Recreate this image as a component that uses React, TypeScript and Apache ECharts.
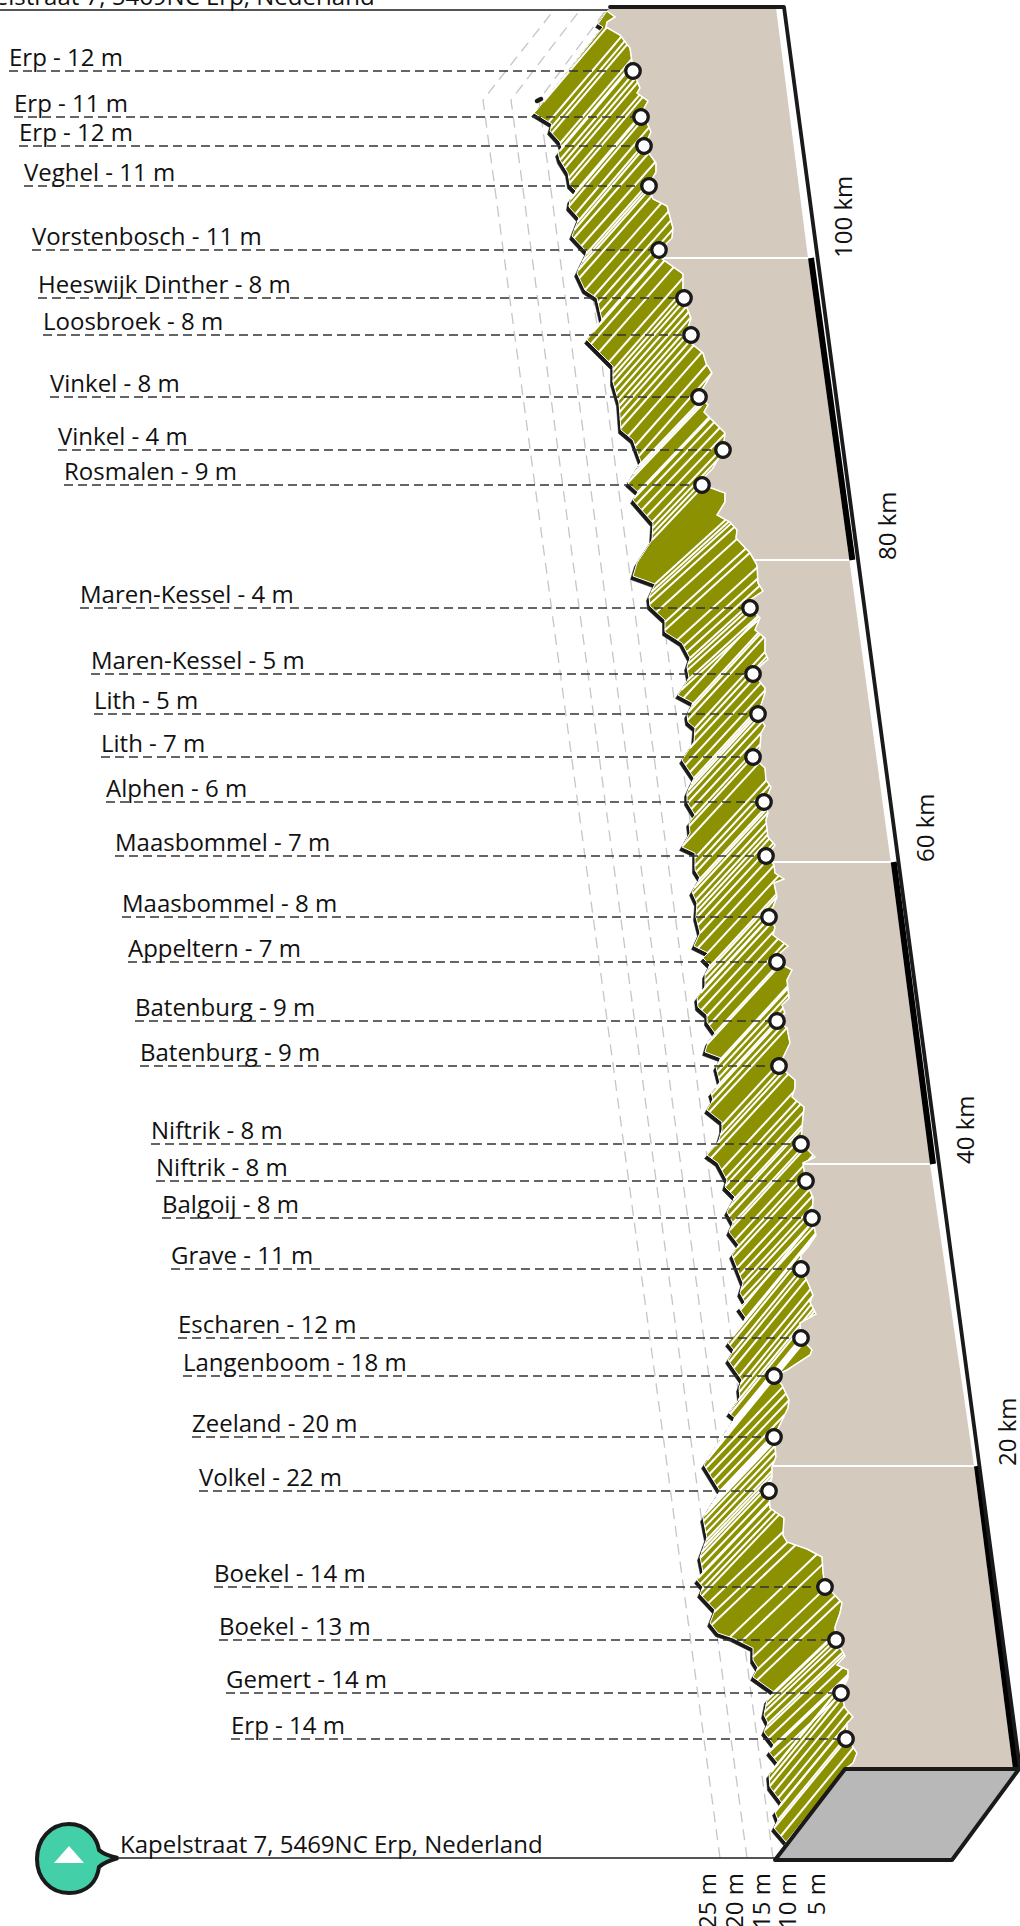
import React, { useEffect, useRef } from "react";
import * as echarts from "echarts";

// Vertical axis: "along" = distance along the route in chart units; 15.1 units make one km.
const UNITS_PER_KM = 15.1;
const kmMarks = [20, 40, 60, 80, 100];
const kmLabelX = [1006, 964, 924, 886, 842];
const blackBandStartKm = [0, 40, 80];

const placeNames = ["Erp","Erp","Erp","Veghel","Vorstenbosch","Heeswijk Dinther","Loosbroek","Vinkel","Vinkel","Rosmalen","Maren-Kessel","Maren-Kessel","Lith","Lith","Alphen","Maasbommel","Maasbommel","Appeltern","Batenburg","Batenburg","Niftrik","Niftrik","Balgoij","Grave","Escharen","Langenboom","Zeeland","Volkel","Boekel","Boekel","Gemert","Erp"];
const placeElevation = [12,11,12,11,11,8,8,8,4,9,4,5,5,7,6,7,8,7,9,9,8,8,8,11,12,18,20,22,14,13,14,14];
const placeAlong = [1697,1651,1622,1582,1518,1470,1433,1371,1318,1283,1160,1094,1054,1011,966,912,851,806,747,702,624,587,550,499,430,392,331,277,181,128,75,29];
const placeDotX = [633,641,644,649,659,684,691,699,723,702,750,753,758,753,764,766,769,777,777,779,801,806,812,801,801,774,774,769,825,836,841,846];
const placeLabelX = [9,14,19,24,32,38,43,50,58,64,80,91,94,101,106,115,122,128,135,140,151,156,162,171,178,183,192,199,214,219,226,231];

const leftEdgeX = [607,598,603,537,534,552,550,560,562,558,560,568,570,576,570,569,579,572,587,577,585,597,602,587,603,613,613,619,621,633,641,628,638,633,653,652,637,633,655,649,650,665,665,682,690,687,689,678,693,687,688,695,694,682,694,687,687,695,689,690,682,695,695,700,692,697,696,700,694,708,703,710,705,705,697,698,707,707,715,708,705,721,716,720,711,713,707,722,722,718,707,718,727,725,735,727,733,729,739,732,743,740,745,739,746,728,734,728,742,739,740,729,735,729,704,720,703,707,700,703,697,703,700,715,710,718,733,753,753,758,753,774,767,764,768,764,774,769,778,769,770,782,775,778,774,786];
const leftEdgeAlong = [1757,1744,1741,1658,1655,1644,1637,1626,1620,1615,1608,1595,1583,1577,1568,1561,1550,1532,1516,1495,1478,1470,1448,1428,1412,1402,1386,1365,1338,1328,1306,1285,1276,1268,1245,1228,1205,1192,1184,1171,1162,1148,1136,1125,1110,1101,1090,1073,1065,1053,1046,1040,1026,1008,990,975,966,953,945,935,921,915,898,890,876,865,851,835,822,815,810,803,793,781,770,761,753,746,735,726,716,710,701,685,675,668,658,646,638,625,613,605,588,581,571,556,545,536,523,513,485,475,466,460,450,425,418,408,388,380,370,355,350,341,303,277,250,230,211,196,188,181,174,158,145,135,130,120,108,100,91,76,68,53,45,36,23,16,5,-7,-19,-35,-44,-52,-60,-74];

const rightEdgeX = [607,615,607,606,620,630,632,633,640,637,648,643,648,651,645,648,656,656,648,653,667,673,672,660,661,683,683,691,688,691,703,706,712,703,699,708,704,725,723,713,703,703,725,725,717,730,737,736,750,757,758,763,750,750,760,755,765,765,768,753,765,765,758,765,761,760,753,765,766,771,765,768,766,768,775,767,774,775,784,774,777,769,775,773,788,780,777,792,787,789,782,785,777,787,790,779,795,795,792,804,802,801,815,803,804,806,813,812,816,808,801,801,808,813,810,816,800,801,812,810,787,774,782,789,788,774,776,772,772,769,770,784,783,787,807,822,823,825,833,842,840,835,836,845,837,848,848,841,845,853,847,847,857,853,845];
const rightEdgeAlong = [1757,1751,1746,1741,1733,1720,1706,1697,1680,1675,1667,1658,1643,1636,1623,1616,1605,1596,1582,1569,1562,1540,1530,1518,1510,1494,1470,1450,1440,1425,1415,1405,1395,1380,1371,1363,1356,1335,1318,1300,1290,1283,1275,1266,1253,1246,1238,1230,1215,1203,1185,1177,1168,1160,1150,1138,1130,1116,1109,1095,1080,1075,1054,1042,1035,1020,1011,1000,988,981,966,955,948,931,923,912,903,895,889,885,871,851,841,833,822,815,806,798,788,770,763,755,747,740,725,702,688,680,671,661,641,625,611,605,598,587,570,550,533,521,513,499,485,473,466,454,445,430,418,413,398,392,383,368,360,331,311,301,291,277,260,250,233,226,219,211,196,181,175,165,155,141,128,112,103,98,90,75,60,51,45,30,15,5,-1];

// White cuts through the ridge: where each one leaves the left edge, grouped by run (sideways per upward unit).
const stripeRuns = [0.85, 0.88, 0.95, 1.1, 0.92, 0.92, 0.82, 0.95, 1.05, 0.82];
const stripesA = [1655,1646,1640,1635,1625,1621,1617,1608,1604,1600,1590,1585,1577,1569,1562,1554,1546,1538];
const stripesB = [1530,1522,1514,1506,1498,1490,1478,1472,1465,1456,1448,1436,1424,1416,1406,1398,1392,1386,1380,1374,1368,1362,1356,1348,1340,1332,1322,1312];
const stripesC = [1302,1294,1286,1276,1270,1264,1258,1252,1246,1240,1234,1228];
const stripesD = [1184,1176,1170,1164,1156,1146,1138,1128,1122,1116,1110,1104,1098,1088,1078];
const stripesE = [1070,1063,1056,1048,1040,1033,1020,1003,996,990,984,978,972,965,959,953,942,922,910,902,896,888,880,874,868,862,856,850,843,835,820,810,800,793,787,781,775];
const stripesF = [765,758,752,743,735,724,708,702,696,690,680,673,666,656,643,633,622,610,598,590,582,576,568,560,552,545,538,528,520,510,500,493,486,478,470,463];
const stripesG = [458,448,440,432,423,416,406,400,392,384,376,368,354,348,338,328,321,315,308];
const stripesH = [300,294,288,282,277,271,265,259,253,247,241,235,228,222,216,210,203,196,190,184,178,172];
const stripesI = [165,156,143,131,126,111,98,88,76,68,62,56,50,44,38,30,22,16,10];
const stripesJ = [2,-4,-12,-18,-24,-30,-37,-44,-52,-60,-68];
const stripeGroups = [stripesA, stripesB, stripesC, stripesD, stripesE, stripesF, stripesG, stripesH, stripesI, stripesJ];
const edgeBlobX = [541, 537];
const edgeBlobAlong = [1669, 1667];

const elevationTicks = [25, 20, 15, 10, 5];
const elevationTickX = [706, 733, 760, 786, 815];
const guideBaseX = [720, 747, 773, 800, 827];
const guideBendX = [483, 511, 539, 567, 595];
const guideTopX = [554, 580, 606, 632, 658];
const guideAlong = [-90, 1668, 1758];

const innerEdgeX = [776, 808, 891, 930, 974, 1013];
const innerEdgeAlong = [1760, 1510, 904, 604, 302, -1];
const wallTopLeftX = 610;
const wallTopAlong = 1760;
const outerEdgeX = [610, 784, 1020];
const outerEdgeAlong = [1761, 1761, -1];
const floorX = [775, 845, 1019, 952];
const floorAlong = [-92, -1, -1, -92];
const addressText = "Kapelstraat 7, 5469NC Erp, Nederland";
const topLineX = [0, 610];
const topLineAlong = [1758, 1758];
const baseLineX = [118, 775];
const baseLineAlong = [-90, -90];
const addressX = [-48, 120];
const addressAlong = [1758, -90];

const INK = "#1a1a1a";
const TEXT = "#111111";
const FONT = '"Open Sans"';
const FONT_SIZE = 24;
const LABEL_RISE = 14.5;

const xAt = (xs: number[], ds: number[], d: number) => {
  for (let i = 0; i < xs.length - 1; i++) {
    const a = ds[i], b = ds[i + 1];
    if ((a >= d && b <= d) || (a <= d && b >= d)) {
      return a === b ? xs[i] : xs[i] + ((xs[i + 1] - xs[i]) * (d - a)) / (b - a);
    }
  }
  return xs[xs.length - 1];
};

const custom = (data: any[], renderItem: (i: number, api: any) => any) => ({
  type: "custom",
  coordinateSystem: "cartesian2d",
  clip: false,
  silent: true,
  encode: { x: 0, y: 1 },
  data,
  renderItem: (p: any, api: any) => renderItem(p.dataIndex, api),
});

const polygon = (xs: number[], ds: number[], style: any) =>
  custom([[xs[0], ds[0]]], (_i, api) => ({
    type: "polygon",
    shape: { points: xs.map((x, i) => api.coord([x, ds[i]])) },
    style,
  }));

const polyline = (xs: number[], ds: number[], style: any) =>
  custom([[xs[0], ds[0]]], (_i, api) => ({
    type: "polyline",
    shape: { points: xs.map((x, i) => api.coord([x, ds[i]])) },
    style: { fill: "none", ...style },
  }));

const textStyle = (text: string, align: string, color = TEXT) => ({
  text,
  fill: color,
  fontFamily: FONT,
  fontSize: FONT_SIZE,
  align,
  verticalAlign: "middle",
  textAlign: align,
  textVerticalAlign: "middle",
});

export default function App() {
  const ref = useRef<HTMLDivElement>(null);
  useEffect(() => {
    const chart = echarts.init(ref.current!, undefined, { renderer: "svg" });
    const PIN = "M69 1824 C87 1824 97 1838 99 1850 Q104 1855 118 1858 Q104 1862 99 1867 C97 1882 87 1893 69 1893 C50 1893 37 1878 37 1859 C37 1840 50 1824 69 1824 Z";
    echarts.graphic.registerShape("pin", echarts.graphic.extendPath(PIN, {}));

    const ridgeX = [...leftEdgeX, ...[...rightEdgeX].reverse()];
    const ridgeAlong = [...leftEdgeAlong, ...[...rightEdgeAlong].reverse()];
    const stripes: { along: number; run: number }[] = [];
    stripeGroups.forEach((g, gi) => g.forEach((along) => stripes.push({ along, run: stripeRuns[gi] })));

    const shadowRender = (_i: number, api: any) => {
      const pts = leftEdgeX.map((x, i) => api.coord([x, leftEdgeAlong[i]]));
      const shifted = [...pts].reverse().map((p: number[]) => [p[0] - 2.5, p[1] + 3.5]);
      return { type: "polygon", shape: { points: [...pts, ...shifted] }, style: { fill: INK, stroke: INK, lineWidth: 0.5 } };
    };

    const stripeRender = (i: number, api: any) => {
      const s = stripes[i];
      const anchor = api.coord([xAt(leftEdgeX, leftEdgeAlong, s.along), s.along]);
      const poly = ridgeX.map((x, k) => api.coord([x, ridgeAlong[k]]));
      const f = (p: number[]) => p[0] - anchor[0] - s.run * (anchor[1] - p[1]) || 1e-6;
      const hits: number[][] = [];
      for (let k = 0; k < poly.length; k++) {
        const a = poly[k], b = poly[(k + 1) % poly.length];
        const fa = f(a), fb = f(b);
        if (fa * fb < 0) {
          const t = fa / (fa - fb);
          hits.push([a[0] + (b[0] - a[0]) * t, a[1] + (b[1] - a[1]) * t]);
        }
      }
      hits.sort((p, q) => q[1] - p[1]);
      const children: any[] = [];
      for (let k = 0; k + 1 < hits.length; k += 2) {
        children.push({
          type: "line",
          shape: { x1: hits[k][0], y1: hits[k][1], x2: hits[k + 1][0], y2: hits[k + 1][1] },
          style: { stroke: "#ffffff", lineWidth: 2, fill: "none" },
        });
      }
      return { type: "group", children };
    };

    const series: any[] = [];
    // Dashed elevation guides
    elevationTicks.forEach((_t, i) => {
      series.push(polyline([guideBaseX[i], guideBendX[i], guideTopX[i]], guideAlong, { stroke: "#c6c6c6", lineWidth: 1.3, lineDash: [11, 7] }));
    });
    series.push(polyline(topLineX, topLineAlong, { stroke: "#555555", lineWidth: 2 }));
    series.push(polyline(baseLineX, baseLineAlong, { stroke: "#555555", lineWidth: 2 }));
    // Ridge
    series.push(custom([[leftEdgeX[0], leftEdgeAlong[0]]], shadowRender));
    series.push(polyline(edgeBlobX, edgeBlobAlong, { stroke: INK, lineWidth: 4.5, lineCap: "round" }));
    series.push(polygon(ridgeX, ridgeAlong, { fill: "#8b9100", stroke: "#ffffff", lineWidth: 1 }));
    series.push(custom(stripes.map((s) => [0, s.along]), stripeRender));
    // Back wall
    series.push(polygon(
      [...rightEdgeX, ...[...innerEdgeX].reverse(), wallTopLeftX],
      [...rightEdgeAlong, ...[...innerEdgeAlong].reverse(), wallTopAlong],
      { fill: "#d4cabd" },
    ));
    series.push(polyline(rightEdgeX, rightEdgeAlong, { stroke: "#ffffff", lineWidth: 1.5 }));
    // km lines across the wall
    series.push(custom(kmMarks.map((k) => [0, k * UNITS_PER_KM]), (i, api) => {
      const d = kmMarks[i] * UNITS_PER_KM;
      const a = api.coord([xAt(rightEdgeX, rightEdgeAlong, d), d]);
      const b = api.coord([xAt(innerEdgeX, innerEdgeAlong, d) + 1, d]);
      return { type: "line", shape: { x1: a[0], y1: a[1], x2: b[0], y2: b[1] }, style: { stroke: "#ffffff", lineWidth: 2.2 } };
    }));
    // Alternating scale band
    series.push(custom(blackBandStartKm.map((k) => [0, k * UNITS_PER_KM]), (i, api) => {
      const d1 = blackBandStartKm[i] * UNITS_PER_KM;
      const d2 = (blackBandStartKm[i] + 20) * UNITS_PER_KM;
      const pts: number[][] = [api.coord([xAt(innerEdgeX, innerEdgeAlong, d1) + 3, d1])];
      innerEdgeAlong.forEach((d, k) => {
        if (d < d2 && d > d1) pts.unshift(api.coord([innerEdgeX[k] + 3, d]));
      });
      pts.unshift(api.coord([xAt(innerEdgeX, innerEdgeAlong, d2) + 3, d2]));
      return { type: "polyline", shape: { points: pts }, style: { stroke: "#000000", lineWidth: 6, fill: "none" } };
    }));
    series.push(polyline(outerEdgeX, outerEdgeAlong, { stroke: INK, lineWidth: 3.8, lineJoin: "round", lineCap: "round" }));
    series.push(polygon(floorX, floorAlong, { fill: "#b8b8b8", stroke: INK, lineWidth: 4, lineJoin: "round" }));
    // Leaders
    series.push(custom(placeAlong.map((d, i) => [placeLabelX[i], d]), (i, api) => {
      const a = api.coord([placeLabelX[i], placeAlong[i]]);
      const b = api.coord([placeDotX[i], placeAlong[i]]);
      return { type: "line", shape: { x1: a[0], y1: a[1], x2: b[0], y2: b[1] }, style: { stroke: "#333333", lineWidth: 1.5, lineDash: [9, 5] } };
    }));
    series.push({
      type: "scatter",
      silent: true,
      symbol: "circle",
      symbolSize: 14.5,
      itemStyle: { color: "#ffffff", borderColor: INK, borderWidth: 3.2, opacity: 1 },
      data: placeDotX.map((x, i) => [x, placeAlong[i]]),
    });
    // Texts
    series.push(custom(placeAlong.map((d, i) => [placeLabelX[i], d]), (i, api) => {
      const p = api.coord([placeLabelX[i], placeAlong[i]]);
      return { type: "text", x: p[0], y: p[1] - LABEL_RISE, style: textStyle(`${placeNames[i]} - ${placeElevation[i]} m`, "left") };
    }));
    series.push(custom(addressX.map((x, i) => [x, addressAlong[i]]), (i, api) => {
      const p = api.coord([addressX[i], addressAlong[i]]);
      return { type: "text", x: p[0], y: p[1] - LABEL_RISE, style: textStyle(addressText, "left") };
    }));
    series.push(custom(kmMarks.map((k) => [0, k * UNITS_PER_KM]), (i, api) => {
      const p = api.coord([kmLabelX[i], kmMarks[i] * UNITS_PER_KM]);
      return { type: "text", x: p[0], y: p[1], rotation: Math.PI / 2, style: textStyle(`${kmMarks[i]} km`, "left") };
    }));
    series.push(custom(elevationTicks.map((t, i) => [elevationTickX[i], -105]), (i, api) => {
      const p = api.coord([elevationTickX[i], -105]);
      return { type: "text", x: p[0], y: p[1], rotation: Math.PI / 2, style: textStyle(`${elevationTicks[i]} m`, "right") };
    }));

    chart.setOption({
      animation: false,
      backgroundColor: "#ffffff",
      tooltip: { show: false },
      legend: { show: false },
      grid: { left: 0, right: 0, top: 0, bottom: 0 },
      xAxis: { type: "value", min: 0, max: 1020, show: false },
      yAxis: { type: "value", min: -158, max: 1768, show: false },
      series,
      graphic: [
        { type: "pin", x: 0, y: 0, z: 50, style: { fill: "#43cfa8", stroke: INK, lineWidth: 4, lineJoin: "miter" } },
        { type: "polygon", z: 51, shape: { points: [[69, 1846], [54, 1863], [84, 1863]] }, style: { fill: "#ffffff" } },
      ],
    });
    return () => chart.dispose();
  }, []);
  return <div ref={ref} style={{ position: "absolute", left: 0, top: 0, width: 1020, height: 1926 }} />;
}
